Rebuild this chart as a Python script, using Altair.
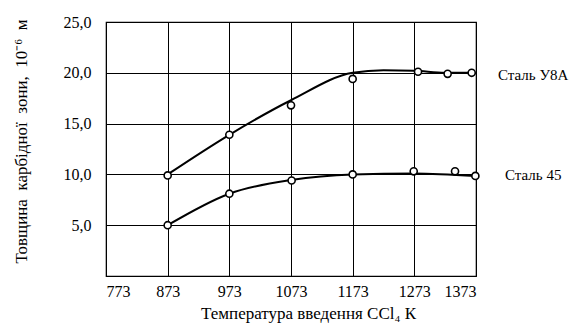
import altair as alt
import pandas as pd

# measured points
u8a_x = [873, 973, 1073, 1173, 1279, 1327, 1366]
u8a_y = [9.9, 13.9, 16.8, 19.4, 20.1, 19.9, 20.0]
s45_x = [873, 973, 1074, 1173, 1272, 1339, 1372]
s45_y = [5.0, 8.1, 9.4, 10.0, 10.3, 10.3, 9.85]

# smoothed curves
u8a_fit_x = [873, 973, 1073, 1173, 1223, 1273, 1323, 1366]
u8a_fit_y = [10.0, 13.9, 17.3, 20.0, 20.25, 20.2, 20.0, 20.0]
s45_fit_x = [873, 973, 1073, 1173, 1273, 1372]
s45_fit_y = [5.0, 8.1, 9.45, 10.0, 10.1, 9.85]

series_names = ["Сталь У8А", "Сталь 45"]
label_y = [19.8, 9.95]
label_px = [392, 399]

x_ticks = [773, 873, 973, 1073, 1173, 1273, 1373]
y_ticks = [5, 10, 15, 20, 25]

pts = pd.DataFrame({
    "x": u8a_x + s45_x,
    "y": u8a_y + s45_y,
    "s": [series_names[0]] * len(u8a_x) + [series_names[1]] * len(s45_x),
})
fit = pd.DataFrame({
    "x": u8a_fit_x + s45_fit_x,
    "y": u8a_fit_y + s45_fit_y,
    "s": [series_names[0]] * len(u8a_fit_x) + [series_names[1]] * len(s45_fit_x),
})

FONT = "Liberation Serif"
NB = "\u00a0"

xs = alt.Scale(domain=[773, 1373], nice=False, zero=False)
ys = alt.Scale(domain=[0, 25], nice=False)

xaxis = alt.Axis(
    values=x_ticks, format="d", grid=True, gridColor="black", gridOpacity=1, gridWidth=1,
    ticks=False, domain=False, labelFont=FONT, labelFontSize=16, labelColor="black",
    labelPadding=7, title="Температура введення CCl₄ К", titleFont=FONT,
    titleFontSize=17, titleFontWeight="normal", titleColor="black",
    titleX=202, titleY=37, titleBaseline="middle", titleAlign="center",
)
yaxis = alt.Axis(
    values=y_ticks, grid=True, gridColor="black", gridOpacity=1, gridWidth=1,
    ticks=False, domain=False, labelFont=FONT, labelFontSize=16, labelColor="black",
    labelPadding=15, labelExpr="replace(format(datum.value, '.1f'), '.', ',')",
    title=f"Товщина{NB} карбідної{NB} зони,{NB} 10⁻⁶{NB} м", titleFont=FONT, titleFontSize=17,
    titleFontWeight="normal", titleColor="black",
    titleX=-85, titleY=119, titleAngle=-90, titleBaseline="middle", titleAlign="center",
)

lines = alt.Chart(fit).mark_line(color="black", strokeWidth=2, interpolate="monotone").encode(
    x=alt.X("x:Q", scale=xs, axis=xaxis),
    y=alt.Y("y:Q", scale=ys, axis=yaxis),
    detail="s:N",
)
points = alt.Chart(pts).mark_point(
    shape="circle", filled=True, fill="white", stroke="black", strokeWidth=1.6, size=50, opacity=1
).encode(
    x=alt.X("x:Q", scale=xs),
    y=alt.Y("y:Q", scale=ys),
)
texts = [
    alt.Chart(pd.DataFrame({"s": [series_names[i]], "y": [label_y[i]]})).mark_text(
        align="left", baseline="middle", font=FONT, fontSize=15, color="black", clip=False
    ).encode(
        x=alt.value(label_px[i]),
        y=alt.Y("y:Q", scale=ys),
        text="s:N",
    )
    for i in range(len(series_names))
]

chart = alt.layer(lines, points, *texts).properties(
    width=370, height=254,
    autosize=alt.AutoSizeParams(type="none"),
    padding={"left": 106, "top": 22, "right": 103, "bottom": 53},
    background="white",
).configure_view(stroke="black", strokeWidth=1.2)

chart.save("out.html", embed_options={"renderer": "svg", "actions": False})
